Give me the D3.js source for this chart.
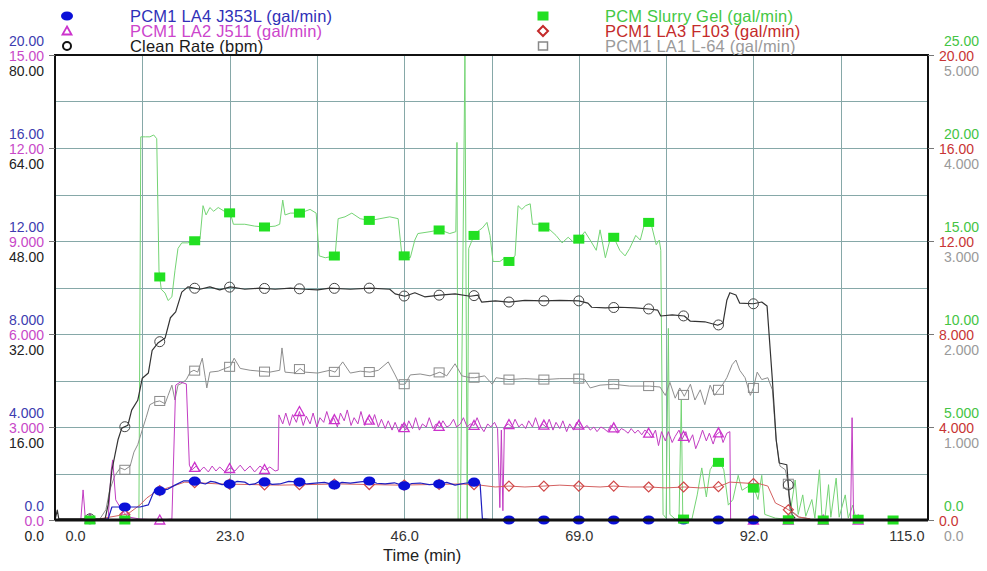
<!DOCTYPE html>
<html>
<head>
<meta charset="utf-8">
<script src="https://cdn.jsdelivr.net/npm/d3@7"></script>
<style>
  html, body { margin: 0; padding: 0; background: #fff; }
  svg { display: block; font-family: "Liberation Sans", Arial, sans-serif; }
</style>
</head>
<body>
<svg id="chart" width="987" height="571"></svg>
<script>
// ---- Time axis ----
const timeTicks = [0, 23, 46, 69, 92, 115];
const timeTickLabels = ["0.0", "23.0", "46.0", "69.0", "92.0", "115.0"];

// ---- Left axes: tick labels for each of the three stacked scales ----
const j353lTickLabels = ["0.0", "4.000", "8.000", "12.00", "16.00", "20.00"];
const j511TickLabels  = ["0.0", "3.000", "6.000", "9.000", "12.00", "15.00"];
const cleanTickLabels = ["0.0", "16.00", "32.00", "48.00", "64.00", "80.00"];
// ---- Right axes ----
const gelTickLabels   = ["0.0", "5.000", "10.00", "15.00", "20.00", "25.00"];
const f103TickLabels  = ["0.0", "4.000", "8.000", "12.00", "16.00", "20.00"];
const l64TickLabels   = ["0.0", "1.000", "2.000", "3.000", "4.000", "5.000"];

// ---- Series: [time (min), value] ----
// PCM1 LA4 J353L (gal/min)
const j353l = [
  [6.0,0],[7.0,0.05],[7.5,0.56],[8.3,0.56],[9.2,0.56],[11.2,0.56],[12.3,0.65],[13.0,1.2],
  [13.8,1.25],[14.9,1.33],[15.8,1.5],[16.9,1.68],[18.3,1.68],[19.2,1.6],[19.8,1.55],[20.5,1.66],
  [21.1,1.63],[22.0,1.52],[23.1,1.55],[24.0,1.66],[25.0,1.63],[25.6,1.52],[26.3,1.55],[27.0,1.67],
  [27.7,1.63],[28.6,1.53],[29.6,1.55],[30.8,1.66],[32.3,1.63],[33.2,1.55],[34.3,1.59],[35.5,1.62],
  [36.9,1.5],[37.8,1.62],[38.9,1.59],[40.2,1.64],[41.5,1.68],[42.4,1.58],[43.5,1.55],[44.7,1.6],
  [46.1,1.46],[47.0,1.57],[48.1,1.59],[49.3,1.52],[50.7,1.55],[51.6,1.62],[52.7,1.5],[54.0,1.58],
  [55.3,1.63],[56.0,1.55],[56.3,0.05],[58.0,0],[92.9,0]
];
// PCM1 LA2 J511 (gal/min)
const j511 = [
  [0,0],[3.4,0],[3.7,0.97],[4.0,0.03],[7.0,0.03],[7.4,1.6],[7.6,1.94],[8.0,0.65],[8.8,0.32],
  [9.6,0.1],[11.2,0.03],[13.8,0],[15.4,0.03],[15.9,4.35],[16.5,4.45],[17.3,4.39],[17.7,1.77],
  [18.0,1.61],[18.6,1.74],[19.1,1.58],[19.6,1.71],[20.2,1.55],[20.7,1.74],[21.2,1.58],[21.7,1.71],
  [22.4,1.55],[23.1,1.68],[23.7,1.58],[24.4,1.77],[25.0,1.58],[25.7,1.74],[26.3,1.55],[27.0,1.74],
  [27.7,1.61],[28.3,1.71],[29.0,1.58],[29.4,1.61],
  [29.5,3.39],[30.0,3.1],[30.4,3.45],[30.9,3.05],[31.3,3.4],[31.8,3.15],[32.2,3.5],[32.7,3.05],
  [33.1,3.35],[33.6,3.1],[34.0,3.45],[34.5,3.0],[34.9,3.3],[35.4,3.15],[35.8,3.5],[36.3,3.1],
  [36.7,3.3],[37.2,3.0],[37.6,3.45],[38.1,3.2],[38.5,3.55],[39.0,3.05],[39.4,3.3],[39.9,3.1],
  [40.3,3.5],[40.8,3.05],[41.2,3.3],[41.7,3.1],[42.1,3.4],[42.6,3.0],[43.0,3.25],[43.5,2.95],
  [43.9,3.2],[44.4,2.9],[44.8,3.15],[45.3,2.85],[45.7,3.1],[46.2,2.9],[46.6,3.2],[47.1,2.95],
  [47.5,3.3],[48.0,2.9],[48.4,3.1],[48.9,3.0],[49.3,3.3],[49.8,2.95],[50.2,3.1],[50.7,3.0],
  [51.1,3.2],[51.6,3.0],[52.0,3.05],[52.5,3.25],[52.9,3.0],[53.4,3.1],[53.8,3.3],[54.3,3.0],
  [54.7,3.1],[55.2,3.05],[55.6,3.3],[56.1,3.0],[56.5,2.85],[57.0,3.1],[57.4,3.0],[57.9,3.15],
  [58.3,2.95],[58.6,0.4],[58.8,2.9],[59.0,0.3],[59.2,3.0],[59.7,3.1],[60.2,3.0],[60.6,3.25],
  [61.1,3.0],[61.5,3.1],[62.0,2.95],[62.4,3.2],[62.9,3.0],[63.3,3.3],[63.8,2.95],[64.2,3.1],
  [64.7,3.0],[65.1,3.25],[65.6,2.9],[66.0,3.15],[66.5,2.95],[66.9,3.2],[67.4,2.85],[67.8,3.1],
  [68.3,2.9],[68.7,3.15],[69.2,3.0],[69.6,2.95],[70.1,3.05],[70.5,2.9],[71.0,3.0],[71.4,2.85],
  [71.9,3.0],[72.3,2.95],[72.8,2.85],[73.2,3.05],[73.7,2.95],[74.1,2.8],[74.6,2.95],[75.0,2.9],
  [75.5,2.8],[75.9,2.95],[76.4,2.8],[76.8,2.9],[77.3,2.75],[77.7,2.9],[78.2,2.8],[78.6,2.65],
  [79.1,2.9],[79.5,2.4],[79.9,2.85],[80.4,2.55],[80.8,2.85],[81.3,2.5],[81.7,2.7],[82.2,2.9],
  [82.6,2.6],[83.1,2.85],[83.5,2.5],[84.0,2.75],[84.4,2.3],[84.9,2.6],[85.3,2.9],[85.8,2.55],
  [86.2,2.8],[86.7,2.45],[87.1,2.75],[87.6,2.85],[88.0,2.5],[88.5,2.8],[88.9,2.85],[89.0,0],
  [104.8,0],[105.0,3.3],[105.2,0],[107.0,0]
];
// Clean Rate (bpm)
const cleanRate = [
  [0,0],[0.3,1.7],[0.5,0.2],[6.6,0.2],[7.0,2.6],[7.5,8.6],[7.9,11.2],[8.3,13.8],[8.8,15.8],
  [9.6,16.3],[10.1,18.9],[10.9,20.6],[11.5,24.4],[12.3,25.3],[12.8,29.2],[13.6,30.5],[14.5,31.3],
  [15.2,34.8],[15.9,35.8],[16.7,39.2],[17.5,40.1],[19.1,39.7],[20.4,40.1],[21.7,39.6],[23.1,40.1],
  [25.0,39.7],[27.0,39.9],[29.0,39.7],[31.0,39.9],[32.9,39.7],[34.6,39.6],[36.2,39.9],[38.9,39.7],
  [41.5,39.9],[44.1,39.7],[44.8,38.9],[46.1,38.5],[47.4,39.1],[48.7,38.4],[50.7,38.7],[52.7,38.9],
  [54.7,38.5],[55.7,38.7],[56.2,37.5],[58.0,37.7],[59.8,37.5],[61.9,37.8],[64.4,37.7],[66.5,37.8],
  [69.0,37.7],[70.2,37.3],[70.7,36.6],[72.5,36.5],[74.4,36.6],[76.4,36.5],[78.3,36.3],[79.4,36.1],
  [79.8,35.1],[81.3,35.3],[82.9,35.1],[83.7,34.2],[85.6,34.1],[87.3,33.5],[88.0,33.9],[88.5,37.8],
  [88.9,39.1],[89.7,38.7],[90.2,37.3],[92.0,37.2],[93.1,37.5],[93.8,36.8],[94.5,24.1],[95.0,13.8],
  [95.4,9.8],[96.4,9.5],[96.7,4.3],[97.1,0.9],[97.5,0.3]
];
// PCM Slurry Gel (gal/min)
const slurryGel = [
  [0,0],[11.05,0],[11.3,20.6],[11.9,20.6],[12.5,20.6],[13.0,20.7],[13.4,20.5],[13.7,13.4],
  [14.0,12.4],[14.5,12.2],[14.9,11.8],[15.4,12.0],[15.8,13.4],[16.2,14.6],[16.7,14.9],[17.5,14.9],
  [18.3,15.0],[19.1,15.1],[19.5,16.9],[19.9,16.4],[20.4,16.8],[20.9,16.6],[21.5,16.8],[22.3,16.6],
  [23.1,16.5],[23.5,15.9],[25.0,15.9],[26.3,15.8],[27.7,15.75],[29.0,15.8],[29.6,15.9],[30.0,17.2],
  [30.3,16.4],[31.0,16.5],[32.3,16.5],[33.6,16.7],[34.4,16.5],[34.8,14.2],[35.6,14.1],[36.9,14.2],
  [37.3,16.2],[38.2,16.3],[39.1,16.5],[40.2,16.2],[41.5,16.1],[42.8,16.2],[44.1,16.3],[45.2,16.2],
  [45.7,14.2],[46.1,14.2],[46.8,14.1],[47.4,15.05],[47.8,15.4],[49.4,15.5],[50.7,15.6],[52.0,15.4],
  [52.8,15.5],[52.95,20.3],[53.1,0],[53.4,0],[54.0,25],[54.3,0],[54.5,14.6],[55.3,15.4],
  [56.3,15.7],[56.9,16.0],[57.3,15.3],[57.7,13.9],[58.6,13.9],[59.3,14.1],[59.8,13.9],[60.6,14.2],
  [61.0,16.9],[61.5,16.7],[62.0,16.9],[62.6,17.0],[62.9,15.9],[63.6,15.9],[64.4,15.75],[65.2,15.6],
  [66.0,15.3],[66.8,14.9],[67.6,15.2],[68.4,14.9],[69.0,15.1],[69.8,15.5],[70.5,15.05],[71.3,14.5],
  [71.8,15.6],[72.5,14.1],[73.1,15.05],[73.6,15.2],[74.4,14.5],[75.1,14.2],[75.7,14.6],[76.5,15.3],
  [77.1,15.05],[77.7,16.0],[78.3,16.0],[78.6,15.8],[79.2,14.8],[79.6,15.05],[79.8,14.5],[80.1,0.3],
  [80.5,0.1],[80.8,10.3],[81.0,0.3],[81.7,0.05],[82.2,0.05],[82.5,6.45],[82.7,0.05],[83.9,0.05],
  [84.6,1.35],[85.2,2.8],[85.8,1.24],[86.3,2.7],[86.9,3.1],[87.6,3.1],[88.1,2.7],[88.7,0.8],
  [89.3,1.1],[90.0,2.4],[90.5,1.6],[91.3,1.8],[92.1,1.7],[92.6,1.1],[93.1,2.4],[93.5,0.3],
  [94.9,0.1],[96.2,0.05],[96.7,0],[97.5,2.15],[97.9,0.3],[98.5,1.35],[98.9,0.2],[99.7,1.1],
  [100.1,0.1],[100.7,2.7],[101.05,0],[101.4,0],[101.9,1.9],[102.2,0.15],[102.9,2.25],[103.3,0.15],
  [104.1,1.35],[104.5,0.1],[105.1,0.8],[105.5,0.05],[107.4,0],[113.3,0],[115,0]
];
// PCM1 LA3 F103 (gal/min)
const f103 = [
  [5.9,0.05],[9.6,0.26],[11.2,0.65],[12.1,0.95],[13.2,1.2],[15.2,1.42],[17.1,1.63],[21.7,1.55],
  [29.6,1.5],[37.5,1.55],[45.4,1.5],[53.4,1.55],[56.0,1.5],[58.0,1.42],[59.8,1.46],[61.9,1.42],
  [64.4,1.46],[66.5,1.5],[69.0,1.46],[71.8,1.42],[73.6,1.46],[75.7,1.42],[78.3,1.42],[80.4,1.38],
  [82.9,1.42],[85.0,1.38],[87.3,1.42],[88.9,1.63],[90.9,1.59],[92.9,1.55],[93.9,1.46],[94.9,0.73],
  [96.2,0.52],[97.1,0.34],[97.9,0.13],[99.5,0.05]
];
// PCM1 LA1 L-64 (gal/min)
const l64 = [
  [5.9,0.01],[6.7,0.11],[7.2,0.32],[7.9,0.48],[8.6,0.56],[9.2,0.54],[9.9,0.58],[10.4,0.73],
  [10.9,0.81],[11.5,0.97],[12.0,1.1],[12.5,1.24],[13.2,1.27],[13.8,1.28],[14.5,1.25],[14.9,1.34],
  [15.4,1.45],[15.8,1.29],[16.2,1.45],[16.7,1.47],[17.3,1.51],[17.8,1.59],[18.3,1.61],[18.8,1.59],
  [19.4,1.74],[19.8,1.53],[20.0,1.42],[20.4,1.59],[21.5,1.6],[22.4,1.63],[23.1,1.65],[23.6,1.74],
  [24.4,1.63],[25.7,1.61],[27.0,1.6],[28.3,1.59],[29.6,1.61],[29.9,1.85],[30.3,1.59],[31.6,1.58],
  [32.3,1.63],[32.9,1.59],[34.6,1.58],[36.2,1.61],[36.9,1.59],[37.9,1.7],[38.9,1.58],[40.2,1.6],
  [41.5,1.59],[42.6,1.61],[43.9,1.7],[44.8,1.56],[45.4,1.46],[46.1,1.46],[46.8,1.56],[48.1,1.57],
  [49.4,1.55],[50.7,1.59],[51.6,1.55],[52.7,1.68],[53.6,1.55],[54.7,1.53],[55.3,1.53],[56.6,1.55],
  [57.6,1.46],[58.1,1.53],[59.8,1.51],[61.9,1.52],[64.4,1.51],[66.5,1.52],[69.0,1.52],[69.8,1.51],
  [70.5,1.42],[71.8,1.45],[73.6,1.46],[75.7,1.44],[78.3,1.44],[79.7,1.43],[80.4,1.34],[81.0,1.48],
  [81.7,1.31],[82.3,1.42],[82.9,1.33],[83.7,1.46],[84.3,1.29],[85.0,1.4],[85.6,1.24],[86.3,1.45],
  [86.9,1.34],[87.3,1.39],[87.9,1.45],[88.5,1.53],[89.2,1.67],[89.7,1.72],[90.2,1.61],[90.9,1.53],
  [91.6,1.34],[92.0,1.42],[92.5,1.59],[93.1,1.51],[93.9,1.53],[94.5,1.4],[95.0,0.86],[95.5,0.58],
  [96.2,0.54],[96.6,0.39],[96.8,0.11],[98.1,0.03],[99.0,0.02]
];

// ---- Layout ----
const plot = { left: 55, right: 928, top: 55, bottom: 520 };
const svg = d3.select("#chart");

const x = d3.scaleLinear([0, 115], [plot.left, plot.right]);
const yJ353l = d3.scaleLinear([0, 20], [plot.bottom, plot.top]);
const yJ511  = d3.scaleLinear([0, 15], [plot.bottom, plot.top]);
const yClean = d3.scaleLinear([0, 80], [plot.bottom, plot.top]);
const yGel   = d3.scaleLinear([0, 25], [plot.bottom, plot.top]);
const yF103  = d3.scaleLinear([0, 20], [plot.bottom, plot.top]);
const yL64   = d3.scaleLinear([0, 5],  [plot.bottom, plot.top]);

// ---- Grid ----
const grid = svg.append("g").attr("stroke", "#86a8a8").attr("stroke-width", 1);
d3.range(11.5, 115, 11.5).forEach(t => {
  grid.append("line").attr("x1", Math.round(x(t)) + 0.5).attr("x2", Math.round(x(t)) + 0.5)
    .attr("y1", plot.top).attr("y2", plot.bottom);
});
d3.range(1, 10).forEach(i => {
  const yy = Math.round(yL64(i * 0.5)) + 0.5;
  grid.append("line").attr("x1", plot.left).attr("x2", plot.right).attr("y1", yy).attr("y2", yy);
});

// ---- Series definitions ----
const series = [
  { data: slurryGel, y: yGel,   line: "#74d474", width: 1,   marker: "gelSquare" },
  { data: l64,       y: yL64,   line: "#8e8e8e", width: 1,   marker: "openSquare" },
  { data: j511,      y: yJ511,  line: "#c23cc2", width: 1,   marker: "triangle" },
  { data: f103,      y: yF103,  line: "#d46060", width: 1,   marker: "diamond" },
  { data: cleanRate, y: yClean, line: "#333333", width: 1.2, marker: "circle" },
  { data: j353l,     y: yJ353l, line: "#1e1ec0", width: 1.2, marker: "dot" }
];

const lines = svg.append("g").attr("fill", "none");
series.forEach(s => {
  lines.append("path")
    .attr("d", d3.line().x(d => x(d[0])).y(d => s.y(d[1]))(s.data))
    .attr("stroke", s.line).attr("stroke-width", s.width).attr("stroke-linejoin", "round");
});

// ---- Markers: sampled along each series every 4.6 min ----
function valueAt(data, t) {
  const i = d3.bisector(d => d[0]).left(data, t);
  if (i <= 0) return data[0][1];
  if (i >= data.length) return data[data.length - 1][1];
  const a = data[i - 1], b = data[i];
  return a[1] + (b[1] - a[1]) * (t - a[0]) / (b[0] - a[0]);
}
function drawMarker(g, type, cx, cy) {
  switch (type) {
    case "dot":
      g.append("ellipse").attr("cx", cx).attr("cy", cy).attr("rx", 6).attr("ry", 4.6).attr("fill", "#0a10d8");
      break;
    case "gelSquare":
      g.append("rect").attr("x", cx - 5.5).attr("y", cy - 4.5).attr("width", 11).attr("height", 9).attr("fill", "#22e022");
      break;
    case "circle":
      g.append("circle").attr("cx", cx).attr("cy", cy).attr("r", 5).attr("fill", "none").attr("stroke", "#444").attr("stroke-width", 1);
      break;
    case "openSquare":
      g.append("rect").attr("x", cx - 5).attr("y", cy - 4.5).attr("width", 10).attr("height", 9).attr("fill", "none").attr("stroke", "#8a8a8a").attr("stroke-width", 1);
      break;
    case "triangle":
      g.append("path").attr("d", `M${cx},${cy - 5}L${cx + 5},${cy + 4}L${cx - 5},${cy + 4}Z`).attr("fill", "none").attr("stroke", "#cc33cc").attr("stroke-width", 1.3);
      break;
    case "diamond":
      g.append("path").attr("d", `M${cx},${cy - 5}L${cx + 5},${cy}L${cx},${cy + 5}L${cx - 5},${cy}Z`).attr("fill", "none").attr("stroke", "#d04848").attr("stroke-width", 1.2);
      break;
  }
}
const markers = svg.append("g");
const markerOrder = ["openSquare", "triangle", "diamond", "circle", "dot", "gelSquare"];
markerOrder.forEach(type => {
  const s = series.find(d => d.marker === type);
  const t0 = s.data[0][0], t1 = s.data[s.data.length - 1][0];
  d3.range(1, 25).forEach(k => {
    const t = 4.6 * k;
    if (t < t0 || t > t1) return;
    drawMarker(markers, type, x(t), s.y(valueAt(s.data, t)));
  });
});

// ---- Frame ----
svg.append("rect").attr("x", plot.left).attr("y", plot.top)
  .attr("width", plot.right - plot.left).attr("height", plot.bottom - plot.top)
  .attr("fill", "none").attr("stroke", "#111").attr("stroke-width", 2);
svg.append("line").attr("x1", plot.left).attr("x2", plot.right).attr("y1", plot.bottom).attr("y2", plot.bottom)
  .attr("stroke", "#111").attr("stroke-width", 3);

// ---- Axes ----
const tickFont = "14px";
function stackedAxis(axisFn, scale, labels, color, dy, withTicks, xPos) {
  const step = scale.domain()[1] / 5;
  const vals = d3.range(0, 6).map(i => i * step);
  const ax = axisFn(scale).tickValues(vals).tickFormat((d, i) => labels[i])
    .tickSize(withTicks ? 6 : 0).tickPadding(withTicks ? 5 : 11);
  const g = svg.append("g").attr("transform", `translate(${xPos},0)`).call(ax);
  g.select(".domain").remove();
  g.selectAll(".tick line").attr("stroke", "#777");
  g.selectAll(".tick text").attr("fill", color).attr("dy", `${dy + 5}px`)
    .style("font-size", tickFont).style("font-family", "'Liberation Sans', Arial, sans-serif");
  return g;
}
stackedAxis(d3.axisLeft, yJ353l, j353lTickLabels, "#3c3cb0", -15, false, plot.left);
stackedAxis(d3.axisLeft, yJ511,  j511TickLabels,  "#c848c8", 0,   true,  plot.left);
stackedAxis(d3.axisLeft, yClean, cleanTickLabels, "#222222", 15,  false, plot.left);
stackedAxis(d3.axisRight, yGel,  gelTickLabels,   "#44c444", -15, false, plot.right + 5);
stackedAxis(d3.axisRight, yF103, f103TickLabels,  "#c83434", 0,   true,  plot.right);
stackedAxis(d3.axisRight, yL64,  l64TickLabels,   "#9a9a9a", 15,  false, plot.right + 5);

const xAxis = svg.append("g").attr("transform", `translate(0,${plot.bottom})`)
  .call(d3.axisBottom(x).tickValues(timeTicks).tickFormat((d, i) => timeTickLabels[i]).tickSize(0).tickPadding(11));
xAxis.select(".domain").remove();
xAxis.selectAll(".tick text").attr("fill", "#333")
  .style("font-size", "14.5px").style("font-family", "'Liberation Sans', Arial, sans-serif");
xAxis.selectAll(".tick").filter(d => d === timeTicks[0]).select("text").attr("text-anchor", "start").attr("x", 10);
xAxis.selectAll(".tick").filter(d => d === timeTicks[timeTicks.length - 1]).select("text").attr("text-anchor", "end").attr("x", -4);

svg.append("text").attr("x", 383).attr("y", 561).attr("fill", "#222")
  .style("font-size", "16.5px").text("Time (min)");

// ---- Legend ----
const legendLeft = [
  { label: "PCM1 LA4 J353L (gal/min)", color: "#3030b8", marker: "dot" },
  { label: "PCM1 LA2 J511 (gal/min)",  color: "#cc44cc", marker: "triangle" },
  { label: "Clean Rate (bpm)",          color: "#1a1a1a", marker: "circle" }
];
const legendRight = [
  { label: "PCM Slurry Gel (gal/min)", color: "#44c844", marker: "gelSquare" },
  { label: "PCM1 LA3 F103 (gal/min)",  color: "#c42a2a", marker: "diamond" },
  { label: "PCM1 LA1 L-64 (gal/min)",  color: "#9a9a9a", marker: "openSquare" }
];
function drawLegend(items, mx, tx) {
  const g = svg.append("g");
  items.forEach((it, i) => {
    const cy = 16 + i * 15;
    if (it.marker === "circle") {
      g.append("circle").attr("cx", mx).attr("cy", cy).attr("r", 4).attr("fill", "none").attr("stroke", "#111").attr("stroke-width", 2);
    } else if (it.marker === "triangle") {
      g.append("path").attr("d", `M${mx},${cy - 4.5}L${mx + 4.5},${cy + 3.5}L${mx - 4.5},${cy + 3.5}Z`).attr("fill", "none").attr("stroke", "#cc33cc").attr("stroke-width", 1.8);
    } else if (it.marker === "openSquare") {
      g.append("rect").attr("x", mx - 4.5).attr("y", cy - 4).attr("width", 9).attr("height", 8).attr("fill", "none").attr("stroke", "#888").attr("stroke-width", 1.5);
    } else if (it.marker === "diamond") {
      g.append("path").attr("d", `M${mx},${cy - 5}L${mx + 5},${cy}L${mx},${cy + 5}L${mx - 5},${cy}Z`).attr("fill", "none").attr("stroke", "#c42a2a").attr("stroke-width", 2);
    } else {
      drawMarker(g, it.marker, mx, cy);
    }
    g.append("text").attr("x", tx).attr("y", cy + 6).attr("fill", it.color)
      .style("font-size", "16.5px").style("letter-spacing", "0.2px").text(it.label);
  });
}
drawLegend(legendLeft, 67, 130);
drawLegend(legendRight, 543, 605);
</script>
</body>
</html>
